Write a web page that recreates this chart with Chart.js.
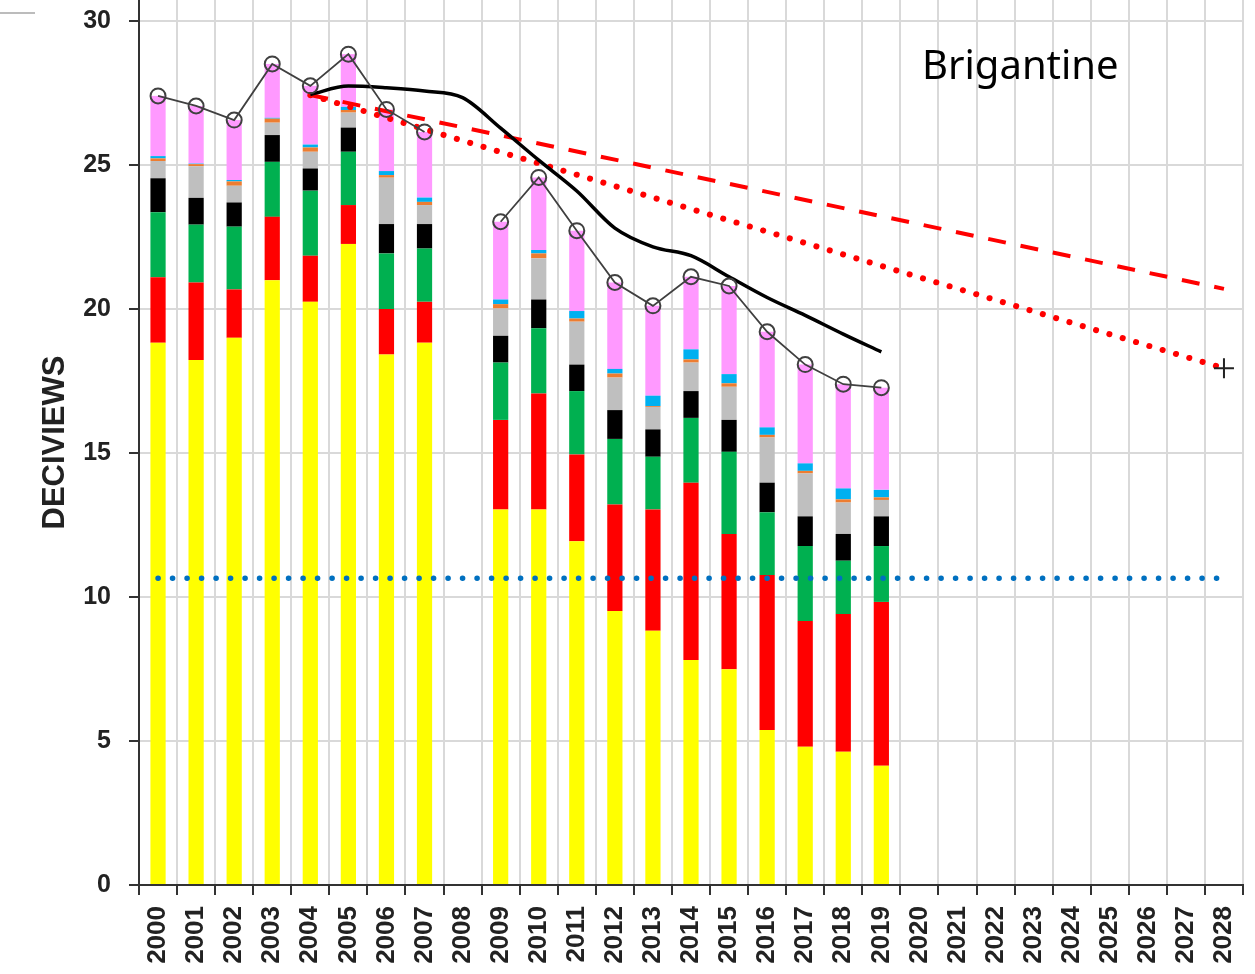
<!DOCTYPE html>
<html>
<head>
<meta charset="utf-8">
<script src="https://cdn.jsdelivr.net/npm/chart.js@4.4.1/dist/chart.umd.min.js"></script>
<style>
  body { margin: 0; background: #fff; }
  #wrap { width: 1255px; height: 974px; }
</style>
</head>
<body>
<div id="wrap"><canvas id="chart" width="1255" height="974"></canvas></div>
<script>
// categorias (anos) - 2000 a 2028
const years = ['2000','2001','2002','2003','2004','2005','2006','2007','2008','2009',
  '2010','2011','2012','2013','2014','2015','2016','2017','2018','2019',
  '2020','2021','2022','2023','2024','2025','2026','2027','2028'];

// componentes empilhados, 2000-2019 (2008 sem dados)
const yellowVals = [18.83, 18.23, 19.0, 21.0, 20.25, 22.26, 18.42, 18.83, null, 13.04, 13.04, 11.94, 9.51, 8.83, 7.81, 7.49, 5.38, 4.8, 4.63, 4.14];
const redVals    = [2.27, 2.69, 1.68, 2.2, 1.6, 1.35, 1.58, 1.42, null, 3.11, 4.03, 3.01, 3.7, 4.21, 6.16, 4.7, 5.38, 4.37, 4.78, 5.69];
const greenVals  = [2.26, 2.01, 2.18, 1.91, 2.26, 1.85, 1.93, 1.85, null, 1.99, 2.26, 2.2, 2.28, 1.83, 2.25, 2.85, 2.18, 2.6, 1.85, 1.94];
const blackVals  = [1.18, 0.93, 0.84, 0.93, 0.77, 0.84, 1.02, 0.85, null, 0.93, 1.0, 0.92, 1.0, 0.95, 0.93, 1.11, 1.03, 1.03, 0.93, 1.03];
const grayVals   = [0.6, 1.1, 0.58, 0.43, 0.58, 0.52, 1.61, 0.66, null, 0.95, 1.43, 1.49, 1.13, 0.78, 0.99, 1.15, 1.57, 1.49, 1.09, 0.57];
const orangeVals = [0.09, 0.07, 0.15, 0.14, 0.15, 0.09, 0.09, 0.11, null, 0.15, 0.17, 0.11, 0.14, 0.03, 0.11, 0.12, 0.09, 0.09, 0.11, 0.09];
const cyanVals   = [0.08, 0.02, 0.05, 0.03, 0.1, 0.11, 0.14, 0.15, null, 0.16, 0.12, 0.26, 0.16, 0.36, 0.35, 0.32, 0.26, 0.26, 0.38, 0.26];
const pinkVals   = [2.09, 2.0, 2.08, 1.87, 2.04, 1.83, 2.14, 2.28, null, 2.7, 2.52, 2.79, 3.0, 3.12, 2.52, 3.06, 3.32, 3.43, 3.62, 3.55];

// total anual (circulos)
const totalVals = [27.4, 27.05, 26.56, 28.51, 27.75, 28.85, 26.93, 26.15, null, 23.03, 24.57, 22.72, 20.92, 20.11, 21.12, 20.8, 19.21, 18.07, 17.39, 17.27];

// media movel 2004-2019 (linha preta grossa)
const avgYears = ['2004','2005','2006','2007','2008','2009','2010','2011','2012','2013','2014','2015','2016','2017','2018','2019'];
const avgVals  = [27.45, 27.74, 27.68, 27.57, 27.34, 26.28, 25.17, 24.1, 22.81, 22.16, 21.85, 21.12, 20.4, 19.78, 19.13, 18.51];

// trajetorias (inicio 2004, fim 2028)
const glideStartYear = '2004';
const glideEndYear = '2028';
const glideStart = 27.43;
const dashedEnd = 20.7;
const dottedEnd = 17.94;

// condicao natural (linha azul pontilhada)
const naturalVal = 10.65;

const siteName = 'Brigantine';

// monta arrays do tamanho das categorias
function byYear(list, vals) {
  return years.map(y => {
    const i = list.indexOf(y);
    return i < 0 ? null : vals[i];
  });
}
const avgData = byYear(avgYears, avgVals);
const dashedData = byYear([glideStartYear, glideEndYear], [glideStart, dashedEnd]);
const dottedData = byYear([glideStartYear, glideEndYear], [glideStart, dottedEnd]);
const naturalData = byYear([years[0], years[years.length - 1]], [naturalVal, naturalVal]);

function barSet(label, data, color) {
  return {
    type: 'bar', label, data, backgroundColor: color, borderWidth: 0,
    barPercentage: 0.4, categoryPercentage: 1.0, order: 10, stack: 'bars'
  };
}

// texto do local e tracinho no canto
const extras = {
  id: 'extras',
  afterDraw(chart) {
    const ctx = chart.ctx;
    ctx.save();
    ctx.strokeStyle = '#a6a6a6';
    ctx.lineWidth = 1.5;
    ctx.beginPath();
    ctx.moveTo(0, 13);
    ctx.lineTo(35, 13);
    ctx.stroke();
    ctx.fillStyle = '#000';
    ctx.font = '40px "Noto Sans"';
    ctx.textBaseline = 'middle';
    ctx.textAlign = 'left';
    ctx.fillText(siteName, 922, 68);
    ctx.restore();
  }
};

const tickFont = { family: 'Liberation Sans', weight: 'bold', size: 25 };

new Chart(document.getElementById('chart').getContext('2d'), {
  data: {
    labels: years,
    datasets: [
      {
        type: 'line', label: 'total', data: totalVals, stack: 's1', order: 1,
        borderColor: '#404040', borderWidth: 1.8,
        pointStyle: 'circle', pointRadius: 7.5, pointBackgroundColor: 'rgba(0,0,0,0)',
        pointBorderColor: '#404040', pointBorderWidth: 2, spanGaps: false
      },
      {
        type: 'line', label: 'media', data: avgData, stack: 's2', order: 2,
        borderColor: '#000', borderWidth: 3.5, pointRadius: 0,
        cubicInterpolationMode: 'monotone'
      },
      {
        type: 'line', label: 'dashed', data: dashedData, stack: 's3', order: 3,
        borderColor: '#ff0000', borderWidth: 4, borderDash: [18, 15],
        pointRadius: 0, spanGaps: true
      },
      {
        type: 'line', label: 'dotted', data: dottedData, stack: 's4', order: 3,
        borderColor: '#ff0000', borderWidth: 6, borderDash: [0.1, 13.8], borderCapStyle: 'round',
        spanGaps: true, pointStyle: 'cross',
        pointRadius: c => (c.dataIndex === years.length - 1 ? 10 : 0),
        pointBorderColor: '#222', pointBorderWidth: 2
      },
      {
        type: 'line', label: 'natural', data: naturalData, stack: 's5', order: 4,
        borderColor: '#0070c0', borderWidth: 5.5, borderDash: [0.1, 14.4], borderCapStyle: 'round',
        pointRadius: 0, spanGaps: true
      },
      barSet('yellow', yellowVals, '#ffff00'),
      barSet('red', redVals, '#ff0000'),
      barSet('green', greenVals, '#00b050'),
      barSet('black', blackVals, '#000000'),
      barSet('gray', grayVals, '#bfbfbf'),
      barSet('orange', orangeVals, '#ed7d31'),
      barSet('cyan', cyanVals, '#00b0f0'),
      barSet('pink', pinkVals, '#ff99ff')
    ]
  },
  options: {
    responsive: false,
    animation: false,
    devicePixelRatio: 1,
    layout: { autoPadding: false, padding: { left: 0, right: 12, top: 0, bottom: 0 } },
    plugins: {
      legend: { display: false },
      tooltip: { enabled: false }
    },
    scales: {
      x: {
        type: 'category',
        stacked: true,
        offset: true,
        grid: { offset: true, color: '#d9d9d9', lineWidth: 2, tickLength: 10, tickColor: '#333', tickWidth: 2 },
        border: { color: '#333', width: 2 },
        ticks: {
          autoSkip: false, minRotation: 90, maxRotation: 90, padding: 11,
          color: '#222', font: { family: 'Liberation Sans', weight: 'bold', size: 26 }
        },
        afterFit(scale) {
          scale.height = 89;
          scale.paddingLeft = 0;
          scale.paddingRight = 0;
        }
      },
      y: {
        stacked: true,
        min: 0,
        max: 30.73,
        grid: { color: '#d9d9d9', lineWidth: 2, tickLength: 10, tickColor: '#333', tickWidth: 2 },
        border: { color: '#333', width: 2 },
        ticks: { stepSize: 5, includeBounds: false, padding: 18, color: '#222', font: tickFont },
        title: {
          display: true, text: 'DECIVIEWS', color: '#222',
          font: { family: 'Liberation Sans', weight: 'bold', size: 31 },
          padding: { top: 37, bottom: 0 }
        },
        afterFit(scale) {
          scale.width = 139;
          scale.paddingTop = 0;
          scale.paddingBottom = 0;
        }
      }
    }
  },
  plugins: [extras]
});
</script>
</body>
</html>
